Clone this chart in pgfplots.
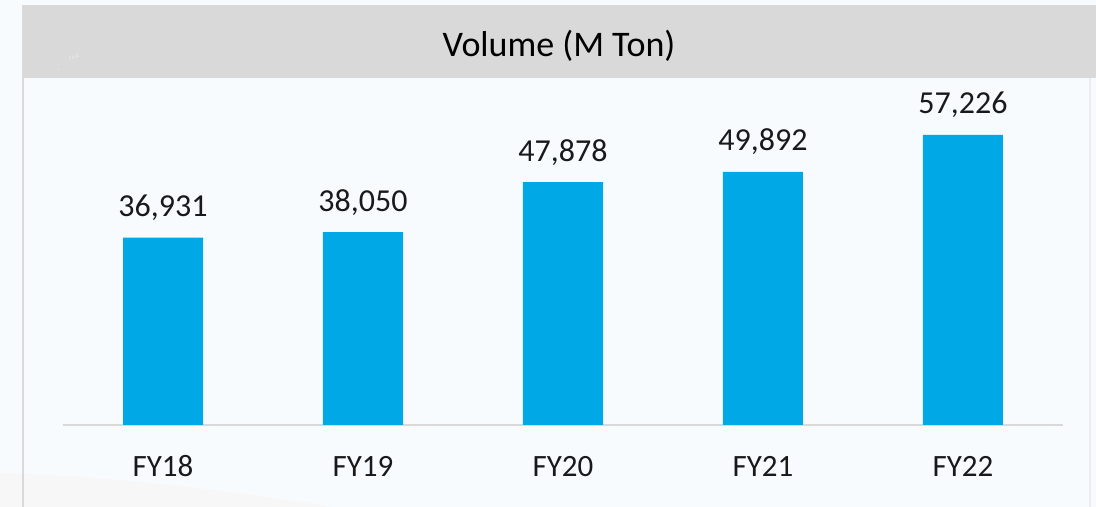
\documentclass[border=0pt]{standalone}
\usepackage{fontspec}
\setmainfont{Carlito}
\usepackage{pgfplots}
\pgfplotsset{compat=1.18}
\definecolor{bg}{HTML}{F7FBFE}
\definecolor{titlebar}{HTML}{D9D9D9}
\definecolor{barblue}{HTML}{00A8E6}
\definecolor{axisgray}{HTML}{D9D9D9}
\begin{document}
\begin{tikzpicture}[x=1bp,y=1bp]
\useasboundingbox (0,0) rectangle (1096,507);
\fill[bg] (0,0) rectangle (1096,507);
% faint swoosh lower left
\fill[black!3] (0,0) -- (0,34) .. controls (80,32) and (200,22) .. (330,0) -- cycle;
\fill[titlebar] (22,429) rectangle (1096,502);
\fill[axisgray] (22,0) rectangle (24,429);
\fill[black!7] (1089,0) rectangle (1091,429);
\node[anchor=base, font=\fontsize{36bp}{42bp}\selectfont, text=black] at (559,450) {Volume (M Ton)};
\begin{axis}[
  at={(63bp,82bp)}, anchor=south west,
  scale only axis, width=1000bp, height=355bp,
  xmin=-0.5, xmax=4.5, ymin=0, ymax=70000,
  axis x line=bottom, axis y line=left,
  axis line style={-},
  y axis line style={draw=none},
  x axis line style={draw=axisgray, line width=2bp},
  xtick=data,
  xticklabels={FY18,FY19,FY20,FY21,FY22},
  major tick length=0pt,
  xticklabel style={anchor=base, yshift=-52bp, font=\fontsize{31bp}{36bp}\selectfont, text=black!90},
  ytick={70000},
  yticklabel style={font=\fontsize{4bp}{5bp}\selectfont, text=black!5},
  /pgf/number format/.cd, 1000 sep={,}, assume math mode=true,
  /pgfplots/.cd,
  ybar, bar width=80bp, bar shift=0pt,
  nodes near coords,
  every node near coord/.append style={anchor=base, yshift=21bp, font=\fontsize{32bp}{38bp}\selectfont, text=black!90},
  clip=false,
]
\addplot[fill=barblue, draw=none] coordinates {(0,36931) (1,38050) (2,47878) (3,49892) (4,57226)};
\end{axis}
\end{tikzpicture}
\end{document}
